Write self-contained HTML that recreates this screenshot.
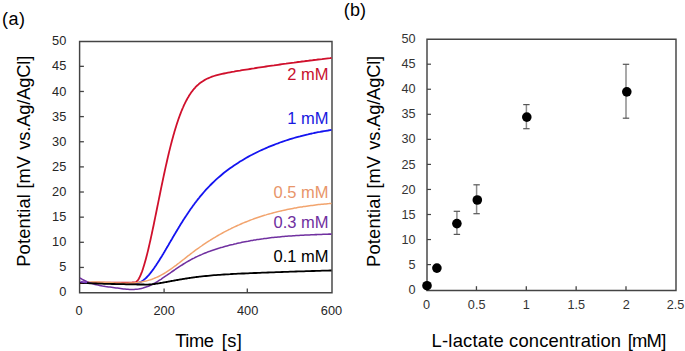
<!DOCTYPE html>
<html><head><meta charset="utf-8"><style>
html,body{margin:0;padding:0;background:#fff;}
body{width:685px;height:351px;overflow:hidden;}
svg{display:block;font-family:"Liberation Sans",sans-serif;}
.tl{font-size:12.8px;fill:#262626;}
.tr{font-size:12.7px;fill:#333333;}
.cl{font-size:16.5px;}
.ti{font-size:18.3px;fill:#000;}
.ti2{font-size:18.4px;fill:#000;}
.pl{font-size:18px;fill:#000;}
</style></head><body>
<svg width="685" height="351" viewBox="0 0 685 351">
<path d="M79.6,41.5H332.0V292.7H79.6Z" fill="none" stroke="#444444" stroke-width="1.45"/>
<line x1="79.6" y1="267.44" x2="83.89999999999999" y2="267.44" stroke="#444444" stroke-width="1.3"/>
<line x1="79.6" y1="242.30" x2="83.89999999999999" y2="242.30" stroke="#444444" stroke-width="1.3"/>
<line x1="79.6" y1="217.16" x2="83.89999999999999" y2="217.16" stroke="#444444" stroke-width="1.3"/>
<line x1="79.6" y1="192.02" x2="83.89999999999999" y2="192.02" stroke="#444444" stroke-width="1.3"/>
<line x1="79.6" y1="166.89" x2="83.89999999999999" y2="166.89" stroke="#444444" stroke-width="1.3"/>
<line x1="79.6" y1="141.75" x2="83.89999999999999" y2="141.75" stroke="#444444" stroke-width="1.3"/>
<line x1="79.6" y1="116.61" x2="83.89999999999999" y2="116.61" stroke="#444444" stroke-width="1.3"/>
<line x1="79.6" y1="91.47" x2="83.89999999999999" y2="91.47" stroke="#444444" stroke-width="1.3"/>
<line x1="79.6" y1="66.34" x2="83.89999999999999" y2="66.34" stroke="#444444" stroke-width="1.3"/>
<line x1="164.1" y1="292.7" x2="164.1" y2="288.4" stroke="#444444" stroke-width="1.3"/>
<line x1="247.3" y1="292.7" x2="247.3" y2="288.4" stroke="#444444" stroke-width="1.3"/>
<text x="66.3" y="296.45" text-anchor="end" class="tl">0</text>
<text x="66.3" y="271.34" text-anchor="end" class="tl">5</text>
<text x="66.3" y="246.23" text-anchor="end" class="tl">10</text>
<text x="66.3" y="221.12" text-anchor="end" class="tl">15</text>
<text x="66.3" y="196.01" text-anchor="end" class="tl">20</text>
<text x="66.3" y="170.90" text-anchor="end" class="tl">25</text>
<text x="66.3" y="145.79" text-anchor="end" class="tl">30</text>
<text x="66.3" y="120.68" text-anchor="end" class="tl">35</text>
<text x="66.3" y="95.57" text-anchor="end" class="tl">40</text>
<text x="66.3" y="70.46" text-anchor="end" class="tl">45</text>
<text x="66.3" y="45.35" text-anchor="end" class="tl">50</text>
<text x="79.05" y="314.8" text-anchor="middle" class="tl">0</text>
<text x="164.1" y="314.8" text-anchor="middle" class="tl">200</text>
<text x="247.6" y="314.8" text-anchor="middle" class="tl">400</text>
<text x="331.5" y="314.8" text-anchor="middle" class="tl">600</text>
<path d="M80.0,283.0L82.0,283.0L84.0,282.9L86.0,282.9L88.0,282.9L90.0,282.9L92.0,282.9L94.0,282.9L96.0,282.9L98.0,282.9L100.0,282.9L102.0,282.9L104.0,282.9L106.0,282.9L108.0,282.9L110.0,282.9L112.0,282.9L114.0,282.9L116.0,282.9L118.0,282.9L120.0,282.9L122.0,282.9L124.0,282.9L126.0,282.9L128.0,282.9L130.0,282.9L130.5,282.9L131.0,282.9L131.5,282.9L132.0,282.9L132.5,282.9L133.0,282.9L133.5,282.9L134.0,282.9L134.5,282.9L135.0,282.9L135.5,282.9L136.0,282.9L136.5,282.9L137.0,282.9L137.5,282.9L138.0,282.9L138.5,282.7L139.0,282.6L139.5,282.4L140.0,282.2L140.5,282.0L141.0,281.8L141.5,281.5L142.0,281.2L142.5,280.8L143.0,280.5L143.5,280.1L144.0,279.7L144.5,279.3L145.0,278.9L145.5,278.4L146.0,278.0L146.5,277.5L147.0,277.0L147.5,276.4L148.0,275.9L148.5,275.3L149.0,274.8L149.5,274.2L150.0,273.6L150.5,272.9L151.0,272.3L151.5,271.7L152.0,271.0L152.5,270.3L153.0,269.7L153.5,269.0L154.0,268.3L154.5,267.6L155.0,266.8L155.5,266.1L156.0,265.4L156.5,264.6L157.0,263.8L157.5,263.1L158.0,262.3L158.5,261.5L159.0,260.7L159.5,259.9L160.0,259.1L160.5,258.3L161.0,257.5L161.5,256.7L162.0,255.9L162.5,255.0L163.0,254.2L163.5,253.4L164.0,252.5L164.5,251.7L165.0,250.8L165.5,250.0L166.0,249.1L166.5,248.3L167.0,247.4L167.5,246.6L168.0,245.7L168.5,244.9L169.0,244.0L169.5,243.1L170.0,242.3L170.5,241.4L171.0,240.6L171.5,239.7L172.0,238.9L172.5,238.0L173.0,237.1L173.5,236.3L174.0,235.4L174.5,234.6L175.0,233.8L175.5,232.9L176.0,232.1L176.5,231.2L177.0,230.4L177.5,229.6L178.0,228.7L178.5,227.9L179.0,227.1L179.5,226.3L180.0,225.4L180.5,224.6L181.0,223.8L181.5,223.0L182.0,222.2L182.5,221.4L183.0,220.6L183.5,219.8L184.0,219.1L184.5,218.3L185.0,217.5L185.5,216.7L186.0,216.0L186.5,215.2L187.0,214.5L187.5,213.7L188.0,213.0L188.5,212.2L189.0,211.5L189.5,210.8L190.0,210.0L190.5,209.3L191.0,208.6L191.5,207.9L192.0,207.2L192.5,206.5L193.0,205.8L193.5,205.1L194.0,204.5L194.5,203.8L195.0,203.1L195.5,202.4L196.0,201.8L196.5,201.1L197.0,200.5L197.5,199.8L198.0,199.2L198.5,198.6L199.0,198.0L199.5,197.3L200.0,196.7L202.0,194.3L204.0,192.0L206.0,189.7L208.0,187.6L210.0,185.5L212.0,183.5L214.0,181.6L216.0,179.7L218.0,177.9L220.0,176.2L222.0,174.5L224.0,172.8L226.0,171.3L228.0,169.8L230.0,168.3L232.0,166.9L234.0,165.5L236.0,164.2L238.0,162.9L240.0,161.6L242.0,160.4L244.0,159.2L246.0,158.0L248.0,156.9L250.0,155.8L252.0,154.8L254.0,153.7L256.0,152.7L258.0,151.7L260.0,150.8L262.0,149.9L264.0,149.0L266.0,148.1L268.0,147.2L270.0,146.4L272.0,145.6L274.0,144.8L276.0,144.0L278.0,143.3L280.0,142.5L282.0,141.8L284.0,141.2L286.0,140.5L288.0,139.8L290.0,139.2L292.0,138.6L294.0,138.0L296.0,137.4L298.0,136.9L300.0,136.4L302.0,135.8L304.0,135.3L306.0,134.8L308.0,134.4L310.0,133.9L312.0,133.5L314.0,133.0L316.0,132.6L318.0,132.2L320.0,131.9L322.0,131.5L324.0,131.1L326.0,130.8L328.0,130.5L330.0,130.1L331.5,129.9" fill="none" stroke="#1414F0" stroke-width="1.8" stroke-linejoin="round"/>
<path d="M80.0,283.0L82.0,282.9L84.0,282.9L86.0,282.8L88.0,282.8L90.0,282.8L92.0,282.7L94.0,282.7L96.0,282.7L98.0,282.7L100.0,282.7L102.0,282.6L104.0,282.6L106.0,282.6L108.0,282.6L110.0,282.6L112.0,282.6L114.0,282.6L116.0,282.6L118.0,282.6L120.0,282.6L122.0,282.6L124.0,282.6L126.0,282.6L128.0,282.6L130.0,282.6L130.5,282.6L131.0,282.6L131.5,282.6L132.0,282.6L132.5,282.5L133.0,282.5L133.5,282.5L134.0,282.5L134.5,282.5L135.0,282.5L135.5,282.4L136.0,282.1L136.5,281.7L137.0,281.2L137.5,280.7L138.0,280.0L138.5,279.2L139.0,278.4L139.5,277.5L140.0,276.4L140.5,275.3L141.0,274.2L141.5,272.9L142.0,271.6L142.5,270.2L143.0,268.7L143.5,267.1L144.0,265.5L144.5,263.8L145.0,262.1L145.5,260.3L146.0,258.5L146.5,256.6L147.0,254.6L147.5,252.6L148.0,250.6L148.5,248.5L149.0,246.3L149.5,244.1L150.0,241.9L150.5,239.7L151.0,237.4L151.5,235.1L152.0,232.8L152.5,230.4L153.0,228.0L153.5,225.7L154.0,223.2L154.5,220.8L155.0,218.4L155.5,215.9L156.0,213.5L156.5,211.0L157.0,208.5L157.5,206.0L158.0,203.6L158.5,201.1L159.0,198.6L159.5,196.2L160.0,193.7L160.5,191.3L161.0,188.8L161.5,186.4L162.0,184.0L162.5,181.6L163.0,179.2L163.5,176.9L164.0,174.5L164.5,172.2L165.0,169.9L165.5,167.6L166.0,165.4L166.5,163.2L167.0,161.0L167.5,158.8L168.0,156.6L168.5,154.5L169.0,152.4L169.5,150.4L170.0,148.4L170.5,146.4L171.0,144.4L171.5,142.5L172.0,140.6L172.5,138.7L173.0,136.9L173.5,135.1L174.0,133.4L174.5,131.6L175.0,129.9L175.5,128.3L176.0,126.7L176.5,125.1L177.0,123.5L177.5,122.0L178.0,120.5L178.5,119.0L179.0,117.6L179.5,116.2L180.0,114.9L180.5,113.6L181.0,112.3L181.5,111.0L182.0,109.8L182.5,108.6L183.0,107.5L183.5,106.3L184.0,105.2L184.5,104.2L185.0,103.1L185.5,102.1L186.0,101.1L186.5,100.2L187.0,99.3L187.5,98.4L188.0,97.5L188.5,96.7L189.0,95.8L189.5,95.0L190.0,94.3L190.5,93.5L191.0,92.8L191.5,92.1L192.0,91.4L192.5,90.8L193.0,90.1L193.5,89.5L194.0,88.9L194.5,88.3L195.0,87.8L195.5,87.2L196.0,86.7L196.5,86.2L197.0,85.7L197.5,85.3L198.0,84.8L198.5,84.4L199.0,83.9L199.5,83.5L200.0,83.1L202.0,81.7L204.0,80.4L206.0,79.3L208.0,78.3L210.0,77.5L212.0,76.7L214.0,76.0L216.0,75.4L218.0,74.9L220.0,74.4L222.0,73.9L224.0,73.5L226.0,73.1L228.0,72.7L230.0,72.3L232.0,71.9L234.0,71.6L236.0,71.2L238.0,70.9L240.0,70.6L242.0,70.2L244.0,69.9L246.0,69.6L248.0,69.3L250.0,69.0L252.0,68.7L254.0,68.4L256.0,68.0L258.0,67.7L260.0,67.4L262.0,67.1L264.0,66.8L266.0,66.5L268.0,66.2L270.0,65.9L272.0,65.6L274.0,65.4L276.0,65.1L278.0,64.8L280.0,64.5L282.0,64.2L284.0,63.9L286.0,63.7L288.0,63.4L290.0,63.1L292.0,62.8L294.0,62.6L296.0,62.3L298.0,62.0L300.0,61.8L302.0,61.5L304.0,61.3L306.0,61.0L308.0,60.8L310.0,60.5L312.0,60.3L314.0,60.0L316.0,59.8L318.0,59.5L320.0,59.3L322.0,59.1L324.0,58.8L326.0,58.6L328.0,58.4L330.0,58.2L331.5,58.0" fill="none" stroke="#D0102C" stroke-width="1.8" stroke-linejoin="round"/>
<path d="M80.0,282.5L81.5,282.4L83.0,282.2L84.5,282.1L86.0,282.0L87.5,282.0L89.0,281.9L90.5,281.9L92.0,281.9L93.5,281.9L95.0,281.9L96.5,282.0L98.0,282.0L99.5,282.1L101.0,282.2L102.5,282.2L104.0,282.3L105.5,282.4L107.0,282.5L108.5,282.6L110.0,282.6L111.5,282.7L113.0,282.8L114.5,282.9L116.0,283.0L117.5,283.0L119.0,283.1L120.5,283.1L122.0,283.2L123.5,283.2L125.0,283.2L126.5,283.2L128.0,283.2L129.5,283.1L131.0,283.1L132.5,283.0L134.0,282.9L135.5,282.7L137.0,282.6L138.5,282.4L140.0,282.1L141.5,281.9L143.0,281.6L144.5,281.3L146.0,281.0L147.5,280.6L149.0,280.1L150.5,279.7L152.0,279.2L153.5,278.6L155.0,278.0L156.5,277.4L158.0,276.7L159.5,276.0L161.0,275.2L162.5,274.3L164.0,273.5L165.5,272.6L167.0,271.6L168.5,270.6L170.0,269.6L171.5,268.6L173.0,267.5L174.5,266.4L176.0,265.3L177.5,264.1L179.0,263.0L180.5,261.8L182.0,260.7L183.5,259.5L185.0,258.3L186.5,257.1L188.0,255.9L189.5,254.8L191.0,253.6L192.5,252.5L194.0,251.3L195.5,250.2L197.0,249.1L198.5,248.1L200.0,247.0L201.5,246.0L203.0,244.9L204.5,243.9L206.0,242.9L207.5,241.9L209.0,241.0L210.5,240.0L212.0,239.1L213.5,238.2L215.0,237.3L216.5,236.4L218.0,235.5L219.5,234.7L221.0,233.8L222.5,233.0L224.0,232.2L225.5,231.4L227.0,230.6L228.5,229.8L230.0,229.1L231.5,228.3L233.0,227.6L234.5,226.9L236.0,226.2L237.5,225.5L239.0,224.9L240.5,224.2L242.0,223.5L243.5,222.9L245.0,222.3L246.5,221.7L248.0,221.1L249.5,220.5L251.0,219.9L252.5,219.4L254.0,218.8L255.5,218.3L257.0,217.8L258.5,217.3L260.0,216.8L261.5,216.3L263.0,215.8L264.5,215.3L266.0,214.9L267.5,214.4L269.0,214.0L270.5,213.6L272.0,213.2L273.5,212.8L275.0,212.4L276.5,212.0L278.0,211.6L279.5,211.3L281.0,210.9L282.5,210.6L284.0,210.2L285.5,209.9L287.0,209.6L288.5,209.3L290.0,209.0L291.5,208.7L293.0,208.4L294.5,208.1L296.0,207.9L297.5,207.6L299.0,207.3L300.5,207.1L302.0,206.9L303.5,206.6L305.0,206.4L306.5,206.2L308.0,206.0L309.5,205.8L311.0,205.6L312.5,205.4L314.0,205.2L315.5,205.0L317.0,204.8L318.5,204.6L320.0,204.5L321.5,204.3L323.0,204.2L324.5,204.0L326.0,203.9L327.5,203.7L329.0,203.6L330.5,203.4L331.5,203.4" fill="none" stroke="#F2A46E" stroke-width="1.5" stroke-linejoin="round"/>
<path d="M80.0,278.0L81.5,278.9L83.0,279.8L84.5,280.5L86.0,281.2L87.5,281.9L89.0,282.5L90.5,283.0L92.0,283.5L93.5,284.0L95.0,284.4L96.5,284.8L98.0,285.1L99.5,285.4L101.0,285.7L102.5,286.0L104.0,286.2L105.5,286.5L107.0,286.7L108.5,286.9L110.0,287.1L111.5,287.3L113.0,287.5L114.5,287.7L116.0,287.9L117.5,288.1L119.0,288.3L120.5,288.5L122.0,288.7L123.5,288.9L125.0,289.0L126.5,289.2L128.0,289.3L129.5,289.4L131.0,289.4L132.5,289.5L134.0,289.4L135.5,289.3L137.0,289.2L138.5,289.0L140.0,288.7L141.5,288.4L143.0,288.1L144.5,287.6L146.0,287.1L147.5,286.6L149.0,286.0L150.5,285.3L152.0,284.6L153.5,283.8L155.0,283.0L156.5,282.1L158.0,281.2L159.5,280.2L161.0,279.3L162.5,278.2L164.0,277.2L165.5,276.2L167.0,275.2L168.5,274.1L170.0,273.1L171.5,272.0L173.0,271.0L174.5,270.0L176.0,268.9L177.5,267.9L179.0,266.9L180.5,265.9L182.0,265.0L183.5,264.0L185.0,263.1L186.5,262.2L188.0,261.3L189.5,260.5L191.0,259.6L192.5,258.8L194.0,258.1L195.5,257.3L197.0,256.6L198.5,255.9L200.0,255.2L201.5,254.6L203.0,253.9L204.5,253.3L206.0,252.7L207.5,252.1L209.0,251.6L210.5,251.0L212.0,250.5L213.5,250.0L215.0,249.5L216.5,249.0L218.0,248.5L219.5,248.1L221.0,247.6L222.5,247.2L224.0,246.7L225.5,246.3L227.0,245.9L228.5,245.5L230.0,245.1L231.5,244.7L233.0,244.4L234.5,244.0L236.0,243.7L237.5,243.3L239.0,243.0L240.5,242.7L242.0,242.3L243.5,242.0L245.0,241.7L246.5,241.4L248.0,241.2L249.5,240.9L251.0,240.6L252.5,240.4L254.0,240.1L255.5,239.9L257.0,239.6L258.5,239.4L260.0,239.2L261.5,239.0L263.0,238.8L264.5,238.5L266.0,238.4L267.5,238.2L269.0,238.0L270.5,237.8L272.0,237.6L273.5,237.5L275.0,237.3L276.5,237.2L278.0,237.0L279.5,236.9L281.0,236.7L282.5,236.6L284.0,236.5L285.5,236.3L287.0,236.2L288.5,236.1L290.0,236.0L291.5,235.9L293.0,235.8L294.5,235.7L296.0,235.6L297.5,235.5L299.0,235.4L300.5,235.3L302.0,235.3L303.5,235.2L305.0,235.1L306.5,235.0L308.0,235.0L309.5,234.9L311.0,234.8L312.5,234.8L314.0,234.7L315.5,234.6L317.0,234.6L318.5,234.5L320.0,234.5L321.5,234.4L323.0,234.3L324.5,234.3L326.0,234.2L327.5,234.2L329.0,234.1L330.5,234.1L331.5,234.1" fill="none" stroke="#7030A0" stroke-width="1.55" stroke-linejoin="round"/>
<path d="M80.0,282.8L82.0,282.9L84.0,283.0L86.0,283.1L88.0,283.2L90.0,283.3L92.0,283.3L94.0,283.4L96.0,283.5L98.0,283.6L100.0,283.6L102.0,283.7L104.0,283.8L106.0,283.8L108.0,283.9L110.0,283.9L112.0,284.0L114.0,284.0L116.0,284.1L118.0,284.1L120.0,284.2L122.0,284.2L124.0,284.2L126.0,284.3L128.0,284.3L130.0,284.3L130.5,284.4L131.0,284.4L131.5,284.4L132.0,284.4L132.5,284.4L133.0,284.4L133.5,284.4L134.0,284.4L134.5,284.4L135.0,284.4L135.5,284.4L136.0,284.4L136.5,284.4L137.0,284.5L137.5,284.5L138.0,284.5L138.5,284.5L139.0,284.5L139.5,284.5L140.0,284.5L140.5,284.5L141.0,284.5L141.5,284.5L142.0,284.5L142.5,284.5L143.0,284.5L143.5,284.5L144.0,284.5L144.5,284.6L145.0,284.6L145.5,284.6L146.0,284.6L146.5,284.6L147.0,284.6L147.5,284.6L148.0,284.6L148.5,284.6L149.0,284.5L149.5,284.5L150.0,284.5L150.5,284.4L151.0,284.4L151.5,284.3L152.0,284.3L152.5,284.2L153.0,284.2L153.5,284.1L154.0,284.0L154.5,284.0L155.0,283.9L155.5,283.8L156.0,283.7L156.5,283.7L157.0,283.6L157.5,283.5L158.0,283.4L158.5,283.4L159.0,283.3L159.5,283.2L160.0,283.1L160.5,283.0L161.0,282.9L161.5,282.9L162.0,282.8L162.5,282.7L163.0,282.6L163.5,282.5L164.0,282.4L164.5,282.3L165.0,282.2L165.5,282.1L166.0,282.1L166.5,282.0L167.0,281.9L167.5,281.8L168.0,281.7L168.5,281.6L169.0,281.5L169.5,281.4L170.0,281.3L170.5,281.2L171.0,281.1L171.5,281.0L172.0,280.9L172.5,280.9L173.0,280.8L173.5,280.7L174.0,280.6L174.5,280.5L175.0,280.4L175.5,280.3L176.0,280.2L176.5,280.1L177.0,280.0L177.5,280.0L178.0,279.9L178.5,279.8L179.0,279.7L179.5,279.6L180.0,279.5L180.5,279.4L181.0,279.3L181.5,279.3L182.0,279.2L182.5,279.1L183.0,279.0L183.5,278.9L184.0,278.9L184.5,278.8L185.0,278.7L185.5,278.6L186.0,278.5L186.5,278.5L187.0,278.4L187.5,278.3L188.0,278.2L188.5,278.2L189.0,278.1L189.5,278.0L190.0,277.9L190.5,277.9L191.0,277.8L191.5,277.7L192.0,277.6L192.5,277.6L193.0,277.5L193.5,277.4L194.0,277.4L194.5,277.3L195.0,277.2L195.5,277.2L196.0,277.1L196.5,277.0L197.0,277.0L197.5,276.9L198.0,276.9L198.5,276.8L199.0,276.7L199.5,276.7L200.0,276.6L202.0,276.4L204.0,276.2L206.0,276.0L208.0,275.8L210.0,275.6L212.0,275.4L214.0,275.2L216.0,275.1L218.0,274.9L220.0,274.8L222.0,274.6L224.0,274.5L226.0,274.4L228.0,274.3L230.0,274.2L232.0,274.0L234.0,273.9L236.0,273.8L238.0,273.7L240.0,273.6L242.0,273.5L244.0,273.5L246.0,273.4L248.0,273.3L250.0,273.2L252.0,273.1L254.0,273.0L256.0,273.0L258.0,272.9L260.0,272.8L262.0,272.7L264.0,272.7L266.0,272.6L268.0,272.5L270.0,272.4L272.0,272.4L274.0,272.3L276.0,272.2L278.0,272.1L280.0,272.1L282.0,272.0L284.0,271.9L286.0,271.9L288.0,271.8L290.0,271.7L292.0,271.6L294.0,271.6L296.0,271.5L298.0,271.4L300.0,271.4L302.0,271.3L304.0,271.3L306.0,271.2L308.0,271.1L310.0,271.1L312.0,271.0L314.0,271.0L316.0,270.9L318.0,270.8L320.0,270.8L322.0,270.7L324.0,270.7L326.0,270.6L328.0,270.6L330.0,270.5L331.5,270.5" fill="none" stroke="#000000" stroke-width="1.8" stroke-linejoin="round"/>
<path d="M80.3,281.6 C82.5,281.9 84.5,282.3 87,282.4" fill="none" stroke="#7A3CC0" stroke-width="1.6"/>
<text x="328.6" y="79.9" text-anchor="end" class="cl" fill="#C8102E">2 mM</text>
<text x="328.6" y="123.6" text-anchor="end" class="cl" fill="#1818E0">1 mM</text>
<text x="328.6" y="198.3" text-anchor="end" class="cl" fill="#E8956A">0.5 mM</text>
<text x="328.6" y="227.7" text-anchor="end" class="cl" fill="#7030A0">0.3 mM</text>
<text x="328.6" y="261.7" text-anchor="end" class="cl" fill="#000">0.1 mM</text>
<text x="2" y="24.7" class="pl" textLength="23.1" lengthAdjust="spacing">(a)</text>
<text x="175.2" y="346.5" class="ti" textLength="38.75" lengthAdjust="spacing">Time</text>
<text x="221.8" y="346.5" class="ti" textLength="20.1" lengthAdjust="spacing">[s]</text>
<g transform="translate(30.1,0) rotate(-90)" class="ti"><text x="-266.8" y="0" textLength="72.65" lengthAdjust="spacing">Potential</text><text x="-188.5" y="0" textLength="32.5" lengthAdjust="spacing">[mV</text><text x="-149.7" y="0" textLength="94" lengthAdjust="spacing">vs.Ag/AgCl]</text></g>
<text x="343.8" y="16.3" class="pl" textLength="22.2" lengthAdjust="spacing">(b)</text>
<path d="M427.0,39.2H676.0V290.4H427.0Z" fill="none" stroke="#444444" stroke-width="1.45"/>
<line x1="427.0" y1="264.60" x2="431.0" y2="264.60" stroke="#444444" stroke-width="1.2"/>
<line x1="427.0" y1="239.55" x2="431.0" y2="239.55" stroke="#444444" stroke-width="1.2"/>
<line x1="427.0" y1="214.50" x2="431.0" y2="214.50" stroke="#444444" stroke-width="1.2"/>
<line x1="427.0" y1="189.45" x2="431.0" y2="189.45" stroke="#444444" stroke-width="1.2"/>
<line x1="427.0" y1="164.40" x2="431.0" y2="164.40" stroke="#444444" stroke-width="1.2"/>
<line x1="427.0" y1="139.35" x2="431.0" y2="139.35" stroke="#444444" stroke-width="1.2"/>
<line x1="427.0" y1="114.30" x2="431.0" y2="114.30" stroke="#444444" stroke-width="1.2"/>
<line x1="427.0" y1="89.25" x2="431.0" y2="89.25" stroke="#444444" stroke-width="1.2"/>
<line x1="427.0" y1="64.20" x2="431.0" y2="64.20" stroke="#444444" stroke-width="1.2"/>
<line x1="476.45" y1="290.4" x2="476.45" y2="286.2" stroke="#444444" stroke-width="1.3"/>
<line x1="526.30" y1="290.4" x2="526.30" y2="286.2" stroke="#444444" stroke-width="1.3"/>
<line x1="576.15" y1="290.4" x2="576.15" y2="286.2" stroke="#444444" stroke-width="1.3"/>
<line x1="626.00" y1="290.4" x2="626.00" y2="286.2" stroke="#444444" stroke-width="1.3"/>
<text x="415.6" y="294.00" text-anchor="end" class="tr">0</text>
<text x="415.6" y="268.92" text-anchor="end" class="tr">5</text>
<text x="415.6" y="243.83" text-anchor="end" class="tr">10</text>
<text x="415.6" y="218.75" text-anchor="end" class="tr">15</text>
<text x="415.6" y="193.66" text-anchor="end" class="tr">20</text>
<text x="415.6" y="168.58" text-anchor="end" class="tr">25</text>
<text x="415.6" y="143.49" text-anchor="end" class="tr">30</text>
<text x="415.6" y="118.41" text-anchor="end" class="tr">35</text>
<text x="415.6" y="93.32" text-anchor="end" class="tr">40</text>
<text x="415.6" y="68.23" text-anchor="end" class="tr">45</text>
<text x="415.6" y="43.15" text-anchor="end" class="tr">50</text>
<text x="426.65" y="309.2" text-anchor="middle" class="tr">0</text>
<text x="476.65" y="309.2" text-anchor="middle" class="tr">0.5</text>
<text x="526.4" y="309.2" text-anchor="middle" class="tr">1</text>
<text x="576.3" y="309.2" text-anchor="middle" class="tr">1.5</text>
<text x="626.3" y="309.2" text-anchor="middle" class="tr">2</text>
<text x="675.6" y="309.2" text-anchor="middle" class="tr">2.5</text>
<line x1="456.9" y1="211.3" x2="456.9" y2="234.4" stroke="#8c8c8c" stroke-width="1.5"/>
<line x1="453.7" y1="211.3" x2="460.1" y2="211.3" stroke="#555" stroke-width="1.2"/>
<line x1="453.7" y1="234.4" x2="460.1" y2="234.4" stroke="#555" stroke-width="1.2"/>
<line x1="476.6" y1="184.8" x2="476.6" y2="213.7" stroke="#8c8c8c" stroke-width="1.5"/>
<line x1="473.4" y1="184.8" x2="479.8" y2="184.8" stroke="#555" stroke-width="1.2"/>
<line x1="473.4" y1="213.7" x2="479.8" y2="213.7" stroke="#555" stroke-width="1.2"/>
<line x1="526.4" y1="104.6" x2="526.4" y2="128.7" stroke="#8c8c8c" stroke-width="1.5"/>
<line x1="523.2" y1="104.6" x2="529.6" y2="104.6" stroke="#555" stroke-width="1.2"/>
<line x1="523.2" y1="128.7" x2="529.6" y2="128.7" stroke="#555" stroke-width="1.2"/>
<line x1="626.0" y1="64.3" x2="626.0" y2="118.2" stroke="#8c8c8c" stroke-width="1.5"/>
<line x1="622.8" y1="64.3" x2="629.2" y2="64.3" stroke="#555" stroke-width="1.2"/>
<line x1="622.8" y1="118.2" x2="629.2" y2="118.2" stroke="#555" stroke-width="1.2"/>
<circle cx="427.0" cy="285.7" r="4.8" fill="#000"/>
<circle cx="436.9" cy="268.1" r="4.8" fill="#000"/>
<circle cx="456.9" cy="223.6" r="4.8" fill="#000"/>
<circle cx="477.3" cy="200.0" r="4.8" fill="#000"/>
<circle cx="526.8" cy="117.1" r="4.8" fill="#000"/>
<circle cx="626.8" cy="91.85" r="4.8" fill="#000"/>
<text x="431.6" y="346.8" class="ti2" textLength="72.15" lengthAdjust="spacing">L-lactate</text>
<text x="509.1" y="346.8" class="ti2" textLength="112.0" lengthAdjust="spacing">concentration</text>
<text x="627.7" y="346.8" class="ti2" textLength="38.56" lengthAdjust="spacing">[mM]</text>
<g transform="translate(380.1,0) rotate(-90)" class="ti"><text x="-266.90000000000003" y="0" textLength="72.65" lengthAdjust="spacing">Potential</text><text x="-188.6" y="0" textLength="32.5" lengthAdjust="spacing">[mV</text><text x="-149.79999999999998" y="0" textLength="94" lengthAdjust="spacing">vs.Ag/AgCl]</text></g>
</svg>
</body></html>
